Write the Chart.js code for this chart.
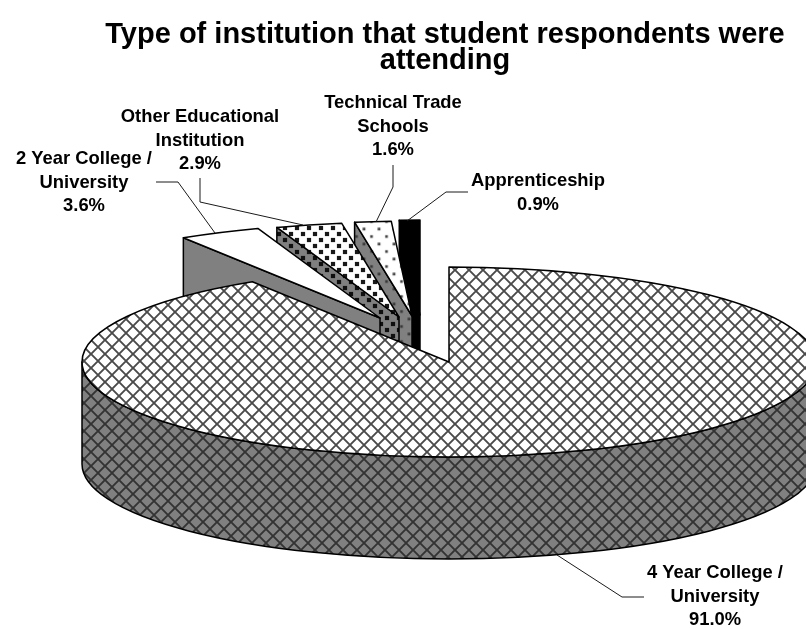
<!DOCTYPE html>
<html>
<head>
<meta charset="utf-8">
<style>html,body{margin:0;padding:0;background:#fff}canvas{display:block}</style>
<script src="https://cdn.jsdelivr.net/npm/chart.js@4"></script>
</head>
<body>
<canvas id="c" width="806" height="629"></canvas>
<script>
const titleLines = ['Type of institution that student respondents were', 'attending'];
const categories = ['4 Year College / University', '2 Year College / University', 'Other Educational Institution', 'Technical Trade Schools', 'Apprenticeship'];
const values = [91.0, 3.6, 2.9, 1.6, 0.9];
const labelLines = [['4 Year College /', 'University'], ['2 Year College /', 'University'], ['Other Educational', 'Institution'], ['Technical Trade', 'Schools'], ['Apprenticeship']];

// projection of the round pie into the tilted 3D look
const view = { cx: 449, cy: 362, rx: 367, ry: 95, depth: 102 };
const explode = [[0, 0], [-69, -44], [-50, -45], [-37, -46], [-29, -47]];
const labelPos = [[715, 573], [84, 159], [200, 117], [393, 103], [538, 181]];
const leaders = [
  [[557, 555], [622, 597], [644, 597]],
  [[156, 182], [178, 182], [215, 233]],
  [[200, 178], [200, 202], [303, 225]],
  [[393, 165], [393, 187], [376, 222]],
  [[468, 192], [446, 192], [407, 221]]
];

function tile(w, h, bg, draw) {
  const t = document.createElement('canvas');
  t.width = w; t.height = h;
  const g = t.getContext('2d');
  g.fillStyle = bg; g.fillRect(0, 0, w, h);
  draw(g);
  return t;
}
function lattice(bg, line) {
  return tile(14, 14, bg, g => {
    g.strokeStyle = line; g.lineWidth = 1.9;
    g.beginPath();
    g.moveTo(-1, -1); g.lineTo(15, 15);
    g.moveTo(15, -1); g.lineTo(-1, 15);
    g.stroke();
  });
}
function dots(size, bg, col, d) {
  return tile(size, size, bg, g => {
    g.fillStyle = col;
    g.fillRect(size / 4 - d / 2, size / 4 - d / 2, d, d);
    g.fillRect(3 * size / 4 - d / 2, 3 * size / 4 - d / 2, d, d);
  });
}

const pie3d = {
  id: 'pie3d',
  beforeDatasetsDraw(chart) {
    const ctx = chart.ctx, v = view;
    const pat = (t, x, y) => {
      const p = ctx.createPattern(t, 'repeat');
      p.setTransform(new DOMMatrix().translate(x, y));
      return p;
    };
    const tops = [
      pat(lattice('#ffffff', '#4a4a4a'), 455, 270), '#ffffff',
      pat(dots(12, '#ffffff', '#181818', 4.2), 300, 231),
      pat(dots(15, '#ffffff', '#444444', 2.7), 375.25, 225.25), '#000000'
    ];
    const walls = [
      pat(lattice('#808080', '#333333'), 455, 270), '#808080',
      pat(dots(12, '#808080', '#101010', 4.2), 300, 231),
      pat(dots(15, '#808080', '#383838', 2.7), 375.25, 225.25), '#000000'
    ];
    const arcs = chart.getDatasetMeta(0).data;
    ctx.save();
    ctx.lineWidth = 1.5;
    ctx.strokeStyle = '#000';
    ctx.lineJoin = 'round';
    const paint = (fill) => { ctx.fillStyle = fill; ctx.fill(); ctx.stroke(); };
    [4, 3, 2, 1].forEach(i => {
      const a = arcs[i].getProps(['startAngle', 'endAngle']);
      const ox = v.cx + explode[i][0], oy = v.cy + explode[i][1];
      const px = ox + v.rx * Math.cos(a.startAngle), py = oy + v.ry * Math.sin(a.startAngle);
      ctx.beginPath();
      ctx.moveTo(px, py);
      ctx.lineTo(px, py + v.depth);
      ctx.lineTo(ox, oy + v.depth);
      ctx.lineTo(ox, oy);
      ctx.closePath();
      paint(walls[i]);
      ctx.beginPath();
      ctx.moveTo(ox, oy);
      ctx.ellipse(ox, oy, v.rx, v.ry, 0, a.startAngle, a.endAngle);
      ctx.closePath();
      paint(tops[i]);
    });
    const m = arcs[0].getProps(['startAngle', 'endAngle']);
    ctx.beginPath();
    ctx.ellipse(v.cx, v.cy, v.rx, v.ry, 0, 0, Math.PI);
    ctx.ellipse(v.cx, v.cy + v.depth, v.rx, v.ry, 0, Math.PI, 0, true);
    ctx.closePath();
    paint(walls[0]);
    ctx.beginPath();
    ctx.moveTo(v.cx, v.cy);
    ctx.ellipse(v.cx, v.cy, v.rx, v.ry, 0, m.startAngle, m.endAngle);
    ctx.closePath();
    paint(tops[0]);
    ctx.restore();

    ctx.save();
    ctx.strokeStyle = '#1a1a1a';
    ctx.lineWidth = 1;
    leaders.forEach(l => {
      ctx.beginPath();
      l.forEach((p, k) => k ? ctx.lineTo(p[0], p[1]) : ctx.moveTo(p[0], p[1]));
      ctx.stroke();
    });
    ctx.fillStyle = '#000';
    ctx.font = 'bold 18.4px "Liberation Sans", Arial, sans-serif';
    ctx.textAlign = 'center';
    ctx.textBaseline = 'middle';
    values.forEach((val, i) => {
      const lines = labelLines[i].concat([val.toFixed(1) + '%']);
      lines.forEach((t, k) => ctx.fillText(t, labelPos[i][0], labelPos[i][1] + k * 23.7));
    });
    ctx.restore();
    return false;
  }
};

new Chart(document.getElementById('c'), {
  type: 'pie',
  data: { labels: categories, datasets: [{ data: values, borderWidth: 0 }] },
  options: {
    responsive: false,
    animation: false,
    layout: { padding: { left: 84, right: 0, top: 0, bottom: 0 } },
    plugins: {
      legend: { display: false },
      tooltip: { enabled: false },
      title: {
        display: true,
        text: titleLines,
        color: '#000',
        font: { family: '"Liberation Sans", Arial, sans-serif', size: 29, weight: 'bold', lineHeight: 0.9 },
        padding: { top: 22, bottom: 0 }
      }
    }
  },
  plugins: [pie3d]
});
</script>
</body>
</html>
